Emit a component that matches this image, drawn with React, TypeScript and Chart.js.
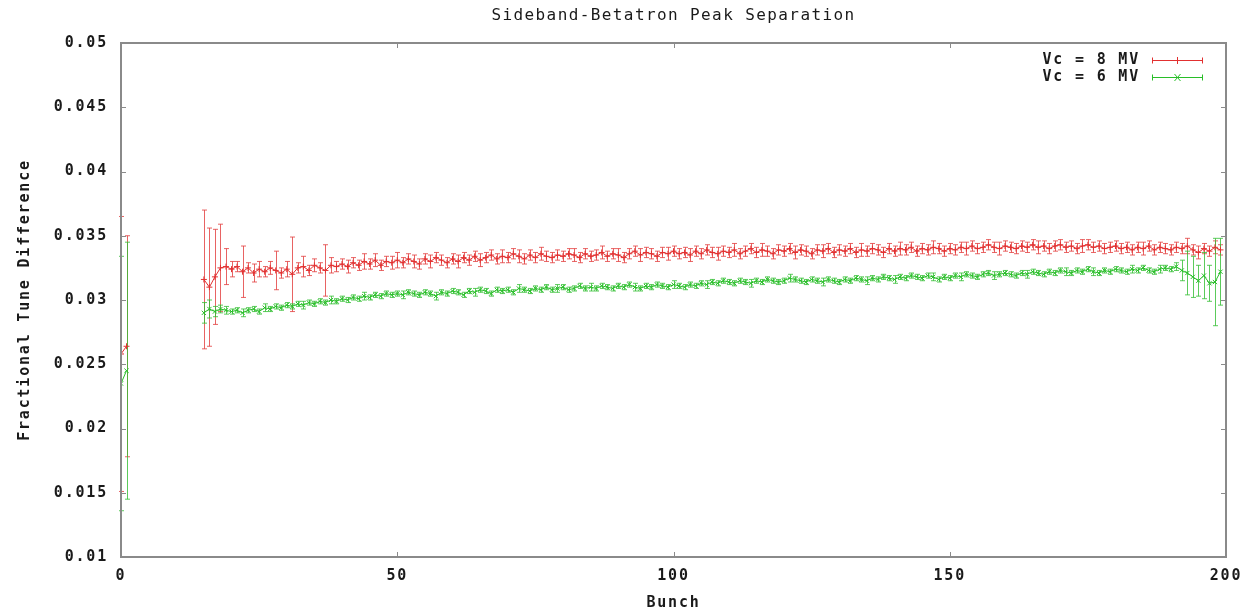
import React, { useEffect, useRef } from 'react';
import { Chart, registerables } from 'chart.js';

Chart.register(...registerables);

const TITLE = 'Sideband-Betatron Peak Separation';
const X_LABEL = 'Bunch';
const Y_LABEL = 'Fractional Tune Difference';
const X_TICKS = [0, 50, 100, 150, 200];
const Y_TICKS = [0.01, 0.015, 0.02, 0.025, 0.03, 0.035, 0.04, 0.045, 0.05];
const SERIES_LABELS = ['Vc = 8 MV', 'Vc = 6 MV'];
const SERIES_COLORS = ['rgb(226,48,48)', 'rgb(40,190,40)'];
const ERR_COLORS = ['rgba(226,60,60,0.8)', 'rgba(50,190,50,0.8)'];

// first two bunches (0 and 1), then a gap, then bunches 15..199
const EARLY_BUNCHES = [0, 1];
const MAIN_FIRST_BUNCH = 15;

const RED_EARLY = [0.0258, 0.0264];
const RED_EARLY_ERR = [0.0107, 0.0086];
const GREEN_EARLY = [0.0235, 0.0245];
const GREEN_EARLY_ERR = [0.0099, 0.01];

const RED_MAIN = [
  0.0316, 0.0310, 0.0318, 0.0325, 0.0326,
  0.0324, 0.0326, 0.0322, 0.0325, 0.0321, 0.0324, 0.0322, 0.0325, 0.0323, 0.0321,
  0.0324, 0.0320, 0.0325, 0.0326, 0.0323, 0.0327, 0.0325, 0.0323, 0.0327, 0.0326,
  0.0328, 0.0326, 0.0329, 0.0327, 0.0330, 0.0328, 0.0331, 0.0327, 0.0330, 0.0329,
  0.0331, 0.0329, 0.0332, 0.0330, 0.0328, 0.0332, 0.0330, 0.0333, 0.0331, 0.0329,
  0.0332, 0.0330, 0.0333, 0.0331, 0.0334, 0.0331, 0.0333, 0.0335, 0.0332, 0.0334,
  0.0333, 0.0336, 0.0334, 0.0332, 0.0335, 0.0333, 0.0336, 0.0334, 0.0333, 0.0335,
  0.0334, 0.0336, 0.0335, 0.0333, 0.0336, 0.0334, 0.0335, 0.0337, 0.0334, 0.0336,
  0.0335, 0.0333, 0.0336, 0.0338, 0.0335, 0.0337, 0.0336, 0.0334, 0.0337, 0.0336,
  0.0338, 0.0336, 0.0337, 0.0335, 0.0338, 0.0336, 0.0339, 0.0337, 0.0336, 0.0338,
  0.0337, 0.0339, 0.0336, 0.0338, 0.0340, 0.0337, 0.0339, 0.0338, 0.0336, 0.0339,
  0.0338, 0.0340, 0.0337, 0.0339, 0.0338, 0.0336, 0.0339, 0.0338, 0.0340, 0.0337,
  0.0339, 0.0338, 0.0340, 0.0337, 0.0339, 0.0338, 0.0340, 0.0339, 0.0337, 0.0340,
  0.0338, 0.0340, 0.0339, 0.0341, 0.0338, 0.0340, 0.0339, 0.0341, 0.0340, 0.0338,
  0.0340, 0.0339, 0.0341, 0.0340, 0.0342, 0.0340, 0.0341, 0.0343, 0.0341, 0.0340,
  0.0342, 0.0341, 0.0340, 0.0342, 0.0341, 0.0343, 0.0341, 0.0342, 0.0340, 0.0342,
  0.0343, 0.0341, 0.0342, 0.0340, 0.0342, 0.0343, 0.0341, 0.0342, 0.0340, 0.0341,
  0.0342, 0.0340, 0.0341, 0.0339, 0.0341, 0.0340, 0.0342, 0.0339, 0.0341, 0.0340,
  0.0339, 0.0341, 0.0340, 0.0342, 0.0339, 0.0337, 0.0340, 0.0338, 0.0341, 0.0339,
];

const RED_ERR = [
  0.0054, 0.0046, 0.0037, 0.0034, 0.0014,
  0.0006, 0.0004, 0.0020, 0.0004, 0.0007, 0.0006, 0.0004, 0.0005, 0.0015, 0.0004,
  0.0006, 0.0029, 0.0004, 0.0008, 0.0004, 0.0005, 0.0004, 0.0020, 0.0006, 0.0004,
  0.0004, 0.0005, 0.0004, 0.0004, 0.0006, 0.0004, 0.0005, 0.0004, 0.0004, 0.0005,
  0.0006, 0.0004, 0.0004, 0.0005, 0.0004, 0.0004, 0.0005, 0.0004, 0.0004, 0.0004,
  0.0004, 0.0005, 0.0004, 0.0004, 0.0004, 0.0005, 0.0004, 0.0004, 0.0004, 0.0005,
  0.0004, 0.0004, 0.0005, 0.0004, 0.0004, 0.0004, 0.0005, 0.0004, 0.0004, 0.0004,
  0.0004, 0.0004, 0.0005, 0.0004, 0.0004, 0.0004, 0.0004, 0.0005, 0.0004, 0.0004,
  0.0005, 0.0004, 0.0004, 0.0004, 0.0005, 0.0004, 0.0004, 0.0004, 0.0004, 0.0005,
  0.0004, 0.0004, 0.0004, 0.0005, 0.0004, 0.0004, 0.0004, 0.0004, 0.0005, 0.0004,
  0.0004, 0.0005, 0.0004, 0.0004, 0.0004, 0.0004, 0.0005, 0.0004, 0.0004, 0.0004,
  0.0004, 0.0004, 0.0005, 0.0004, 0.0004, 0.0004, 0.0004, 0.0005, 0.0004, 0.0004,
  0.0004, 0.0004, 0.0004, 0.0004, 0.0005, 0.0004, 0.0004, 0.0004, 0.0004, 0.0004,
  0.0004, 0.0005, 0.0004, 0.0004, 0.0004, 0.0004, 0.0004, 0.0005, 0.0004, 0.0004,
  0.0004, 0.0004, 0.0004, 0.0005, 0.0004, 0.0004, 0.0004, 0.0004, 0.0004, 0.0005,
  0.0004, 0.0004, 0.0004, 0.0004, 0.0004, 0.0004, 0.0005, 0.0004, 0.0004, 0.0004,
  0.0004, 0.0004, 0.0004, 0.0004, 0.0005, 0.0004, 0.0004, 0.0004, 0.0004, 0.0004,
  0.0004, 0.0004, 0.0004, 0.0004, 0.0004, 0.0005, 0.0004, 0.0004, 0.0004, 0.0004,
  0.0004, 0.0004, 0.0004, 0.0006, 0.0004, 0.0005, 0.0004, 0.0004, 0.0005, 0.0004,
];

const GREEN_MAIN = [
  0.0290, 0.0293, 0.0291, 0.0293, 0.0292,
  0.0291, 0.0292, 0.0290, 0.0292, 0.0293, 0.0291, 0.0294, 0.0293, 0.0295, 0.0294,
  0.0296, 0.0295, 0.0297, 0.0296, 0.0298, 0.0297, 0.0299, 0.0298, 0.0300, 0.0299,
  0.0301, 0.0300, 0.0302, 0.0301, 0.0303, 0.0302, 0.0304, 0.0303, 0.0305, 0.0304,
  0.0305, 0.0304, 0.0306, 0.0305, 0.0304, 0.0306, 0.0305, 0.0303, 0.0306, 0.0305,
  0.0307, 0.0306, 0.0304, 0.0307, 0.0306, 0.0308, 0.0307, 0.0305, 0.0308, 0.0307,
  0.0308, 0.0306, 0.0309, 0.0308, 0.0307, 0.0309, 0.0308, 0.0310, 0.0308, 0.0309,
  0.0310, 0.0308, 0.0309, 0.0311, 0.0309, 0.0310, 0.0309, 0.0311, 0.0310, 0.0309,
  0.0311, 0.0310, 0.0312, 0.0310, 0.0309, 0.0311, 0.0310, 0.0312, 0.0311, 0.0310,
  0.0312, 0.0311, 0.0310, 0.0312, 0.0311, 0.0313, 0.0312, 0.0314, 0.0313, 0.0315,
  0.0314, 0.0313, 0.0315, 0.0314, 0.0313, 0.0315, 0.0314, 0.0316, 0.0315, 0.0314,
  0.0315, 0.0317, 0.0316, 0.0315, 0.0314, 0.0316, 0.0315, 0.0314, 0.0316, 0.0315,
  0.0314, 0.0316, 0.0315, 0.0317, 0.0316, 0.0315, 0.0317, 0.0316, 0.0318, 0.0317,
  0.0316, 0.0318, 0.0317, 0.0319, 0.0318, 0.0317, 0.0319, 0.0318, 0.0316, 0.0318,
  0.0317, 0.0319, 0.0318, 0.0320, 0.0319, 0.0318, 0.0320, 0.0321, 0.0319, 0.0320,
  0.0321, 0.0320, 0.0319, 0.0321, 0.0320, 0.0322, 0.0321, 0.0320, 0.0322, 0.0321,
  0.0323, 0.0322, 0.0321, 0.0323, 0.0322, 0.0324, 0.0322, 0.0321, 0.0323, 0.0322,
  0.0324, 0.0323, 0.0322, 0.0324, 0.0323, 0.0325, 0.0323, 0.0322, 0.0324, 0.0325,
  0.0324, 0.0326, 0.0323, 0.0321, 0.0318, 0.0315, 0.0319, 0.0313, 0.0314, 0.0322,
];

const GREEN_ERR = [
  0.0008, 0.0007, 0.0004, 0.0003, 0.0003,
  0.0002, 0.0002, 0.0003, 0.0002, 0.0002, 0.0002, 0.0003, 0.0002, 0.0002, 0.0002,
  0.0002, 0.0002, 0.0002, 0.0003, 0.0002, 0.0002, 0.0002, 0.0002, 0.0003, 0.0002,
  0.0002, 0.0002, 0.0002, 0.0002, 0.0003, 0.0002, 0.0002, 0.0002, 0.0002, 0.0002,
  0.0002, 0.0003, 0.0002, 0.0002, 0.0002, 0.0002, 0.0002, 0.0003, 0.0002, 0.0002,
  0.0002, 0.0002, 0.0002, 0.0002, 0.0003, 0.0002, 0.0002, 0.0002, 0.0002, 0.0002,
  0.0002, 0.0002, 0.0003, 0.0002, 0.0002, 0.0002, 0.0002, 0.0002, 0.0002, 0.0003,
  0.0002, 0.0002, 0.0002, 0.0002, 0.0002, 0.0003, 0.0002, 0.0002, 0.0002, 0.0002,
  0.0002, 0.0002, 0.0002, 0.0003, 0.0002, 0.0002, 0.0002, 0.0002, 0.0002, 0.0002,
  0.0003, 0.0002, 0.0002, 0.0002, 0.0002, 0.0002, 0.0003, 0.0002, 0.0002, 0.0002,
  0.0002, 0.0002, 0.0002, 0.0002, 0.0003, 0.0002, 0.0002, 0.0002, 0.0002, 0.0002,
  0.0002, 0.0003, 0.0002, 0.0002, 0.0002, 0.0002, 0.0002, 0.0003, 0.0002, 0.0002,
  0.0002, 0.0002, 0.0002, 0.0002, 0.0002, 0.0003, 0.0002, 0.0002, 0.0002, 0.0002,
  0.0003, 0.0002, 0.0002, 0.0002, 0.0002, 0.0002, 0.0002, 0.0003, 0.0002, 0.0002,
  0.0002, 0.0002, 0.0003, 0.0002, 0.0002, 0.0002, 0.0002, 0.0002, 0.0003, 0.0002,
  0.0002, 0.0002, 0.0002, 0.0002, 0.0003, 0.0002, 0.0002, 0.0002, 0.0002, 0.0002,
  0.0002, 0.0003, 0.0002, 0.0002, 0.0002, 0.0002, 0.0003, 0.0002, 0.0002, 0.0002,
  0.0002, 0.0002, 0.0002, 0.0003, 0.0002, 0.0002, 0.0002, 0.0002, 0.0003, 0.0002,
  0.0002, 0.0003, 0.0008, 0.0017, 0.0016, 0.0012, 0.0018, 0.0014, 0.0034, 0.0026,
];

const FONT = '"DejaVu Sans Mono", "Liberation Mono", monospace';
const TEXT_COLOR = '#1a1a1a';
const FRAME_COLOR = '#8a8a8a';

function buildPoints(early: number[], earlyErr: number[], main: number[], mainErr: number[]) {
  const pts: { x: number; y: number | null }[] = [];
  const errs: number[] = [];
  EARLY_BUNCHES.forEach((b, i) => {
    pts.push({ x: b, y: early[i] });
    errs.push(earlyErr[i]);
  });
  // gap in the data
  pts.push({ x: EARLY_BUNCHES[EARLY_BUNCHES.length - 1] + 1, y: null });
  errs.push(0);
  main.forEach((v, i) => {
    pts.push({ x: MAIN_FIRST_BUNCH + i, y: v });
    errs.push(mainErr[i]);
  });
  return { pts, errs };
}

const spacingPlugin = {
  id: 'spacing',
  beforeDraw(chart: any) {
    (chart.ctx as any).letterSpacing = '1.8px';
  },
};

const errorBarPlugin = {
  id: 'errorBars',
  beforeDatasetsDraw(chart: any) {
    const { ctx, scales } = chart;
    const x = scales.x;
    const y = scales.y;
    chart.data.datasets.forEach((ds: any) => {
      ctx.save();
      ctx.strokeStyle = ds.errColor;
      ctx.lineWidth = 1;
      ds.data.forEach((p: any, j: number) => {
        if (p.y == null) return;
        const e = ds.errors[j];
        const px = Math.round(x.getPixelForValue(p.x)) + 0.5;
        const top = y.getPixelForValue(p.y + e);
        const bot = y.getPixelForValue(p.y - e);
        ctx.beginPath();
        ctx.moveTo(px, top);
        ctx.lineTo(px, bot);
        ctx.moveTo(px - 2.5, top);
        ctx.lineTo(px + 2.5, top);
        ctx.moveTo(px - 2.5, bot);
        ctx.lineTo(px + 2.5, bot);
        ctx.stroke();
      });
      ctx.restore();
    });
  },
};

const framePlugin = {
  id: 'frame',
  afterDraw(chart: any) {
    const { ctx, chartArea, scales } = chart;
    const { left, right, top, bottom } = chartArea;
    ctx.save();
    ctx.strokeStyle = FRAME_COLOR;
    ctx.lineWidth = 1;
    const tl = 5;
    ctx.beginPath();
    Y_TICKS.forEach((v) => {
      const py = Math.round(scales.y.getPixelForValue(v)) + 0.5;
      ctx.moveTo(left, py);
      ctx.lineTo(left + tl, py);
      ctx.moveTo(right, py);
      ctx.lineTo(right - tl, py);
    });
    X_TICKS.forEach((v) => {
      const px = Math.round(scales.x.getPixelForValue(v)) + 0.5;
      ctx.moveTo(px, bottom);
      ctx.lineTo(px, bottom - tl);
      ctx.moveTo(px, top);
      ctx.lineTo(px, top + tl);
    });
    ctx.stroke();
    ctx.lineWidth = 2;
    ctx.strokeRect(left, top, right - left, bottom - top);

    // title
    ctx.letterSpacing = '1.4px';
    ctx.fillStyle = TEXT_COLOR;
    ctx.font = `16px ${FONT}`;
    ctx.textAlign = 'center';
    ctx.textBaseline = 'middle';
    ctx.fillText(TITLE, (left + right) / 2, 16);

    // legend (inside, top right)
    ctx.letterSpacing = '1.8px';
    ctx.font = `bold 15px ${FONT}`;
    ctx.textAlign = 'right';
    const textRight = right - 86;
    const sampleL = right - 74;
    const sampleR = right - 23;
    chart.data.datasets.forEach((ds: any, i: number) => {
      const ly = top + 17 + i * 17;
      ctx.fillStyle = TEXT_COLOR;
      ctx.fillText(SERIES_LABELS[i], textRight, ly);
      ctx.strokeStyle = ds.borderColor;
      ctx.lineWidth = 1;
      ctx.beginPath();
      ctx.moveTo(sampleL, ly + 0.5);
      ctx.lineTo(sampleR, ly + 0.5);
      ctx.moveTo(sampleL + 0.5, ly - 2.5);
      ctx.lineTo(sampleL + 0.5, ly + 3.5);
      ctx.moveTo(sampleR - 0.5, ly - 2.5);
      ctx.lineTo(sampleR - 0.5, ly + 3.5);
      const cx = (sampleL + sampleR) / 2;
      if (i === 0) {
        ctx.moveTo(cx, ly - 3);
        ctx.lineTo(cx, ly + 4);
      } else {
        ctx.moveTo(cx - 3, ly - 3);
        ctx.lineTo(cx + 3, ly + 4);
        ctx.moveTo(cx + 3, ly - 3);
        ctx.lineTo(cx - 3, ly + 4);
      }
      ctx.stroke();
    });
    ctx.restore();
  },
};

export default function App() {
  const canvasRef = useRef<HTMLCanvasElement | null>(null);

  useEffect(() => {
    const canvas = canvasRef.current;
    if (!canvas) return;
    const red = buildPoints(RED_EARLY, RED_EARLY_ERR, RED_MAIN, RED_ERR);
    const green = buildPoints(GREEN_EARLY, GREEN_EARLY_ERR, GREEN_MAIN, GREEN_ERR);

    const chart = new Chart(canvas, {
      type: 'line',
      data: {
        datasets: [
          {
            label: SERIES_LABELS[0],
            data: red.pts,
            errors: red.errs,
            errColor: ERR_COLORS[0],
            borderColor: SERIES_COLORS[0],
            backgroundColor: SERIES_COLORS[0],
            borderWidth: 1,
            pointStyle: 'cross',
            pointRadius: 3,
            pointBorderWidth: 1,
            pointBorderColor: SERIES_COLORS[0],
            spanGaps: false,
            tension: 0,
          } as any,
          {
            label: SERIES_LABELS[1],
            data: green.pts,
            errors: green.errs,
            errColor: ERR_COLORS[1],
            borderColor: SERIES_COLORS[1],
            backgroundColor: SERIES_COLORS[1],
            borderWidth: 1,
            pointStyle: 'crossRot',
            pointRadius: 3,
            pointBorderWidth: 1,
            pointBorderColor: SERIES_COLORS[1],
            spanGaps: false,
            tension: 0,
          } as any,
        ],
      },
      options: {
        responsive: false,
        animation: false,
        events: [],
        layout: { padding: { top: 43, right: 18, bottom: 0, left: 0 } },
        plugins: {
          legend: { display: false },
          title: { display: false },
          tooltip: { enabled: false },
        },
        scales: {
          x: {
            type: 'linear',
            min: 0,
            max: 200,
            grid: { display: false, drawTicks: false },
            border: { display: false },
            ticks: {
              stepSize: 50,
              padding: 10,
              maxRotation: 0,
              color: TEXT_COLOR,
              font: { family: FONT, size: 15, weight: 'bold' },
              callback: (v: any) => String(v),
            },
            title: {
              display: true,
              text: X_LABEL,
              color: TEXT_COLOR,
              font: { family: FONT, size: 15, weight: 'bold' },
              padding: { top: 0, bottom: 2 },
            },
            afterFit: (s: any) => {
              s.height = 57;
              s.paddingLeft = 0;
              s.paddingRight = 0;
            },
          },
          y: {
            type: 'linear',
            min: 0.01,
            max: 0.05,
            grid: { display: false, drawTicks: false },
            border: { display: false },
            ticks: {
              stepSize: 0.005,
              padding: 13,
              color: TEXT_COLOR,
              font: { family: FONT, size: 15, weight: 'bold' },
              callback: (v: any) => String(Number(Number(v).toFixed(3))),
            },
            title: {
              display: true,
              text: Y_LABEL,
              color: TEXT_COLOR,
              font: { family: FONT, size: 15, weight: 'bold' },
              padding: { top: 16, bottom: 0 },
            },
            afterFit: (s: any) => {
              s.width = 121;
              s.paddingTop = 0;
              s.paddingBottom = 0;
            },
          },
        },
      } as any,
      plugins: [spacingPlugin, errorBarPlugin, framePlugin],
    });
    return () => chart.destroy();
  }, []);

  return (
    <div style={{ position: 'absolute', left: 0, top: 0, width: 1244, height: 614, background: '#fff' }}>
      <canvas ref={canvasRef} width={1244} height={614} style={{ display: 'block' }} />
    </div>
  );
}
